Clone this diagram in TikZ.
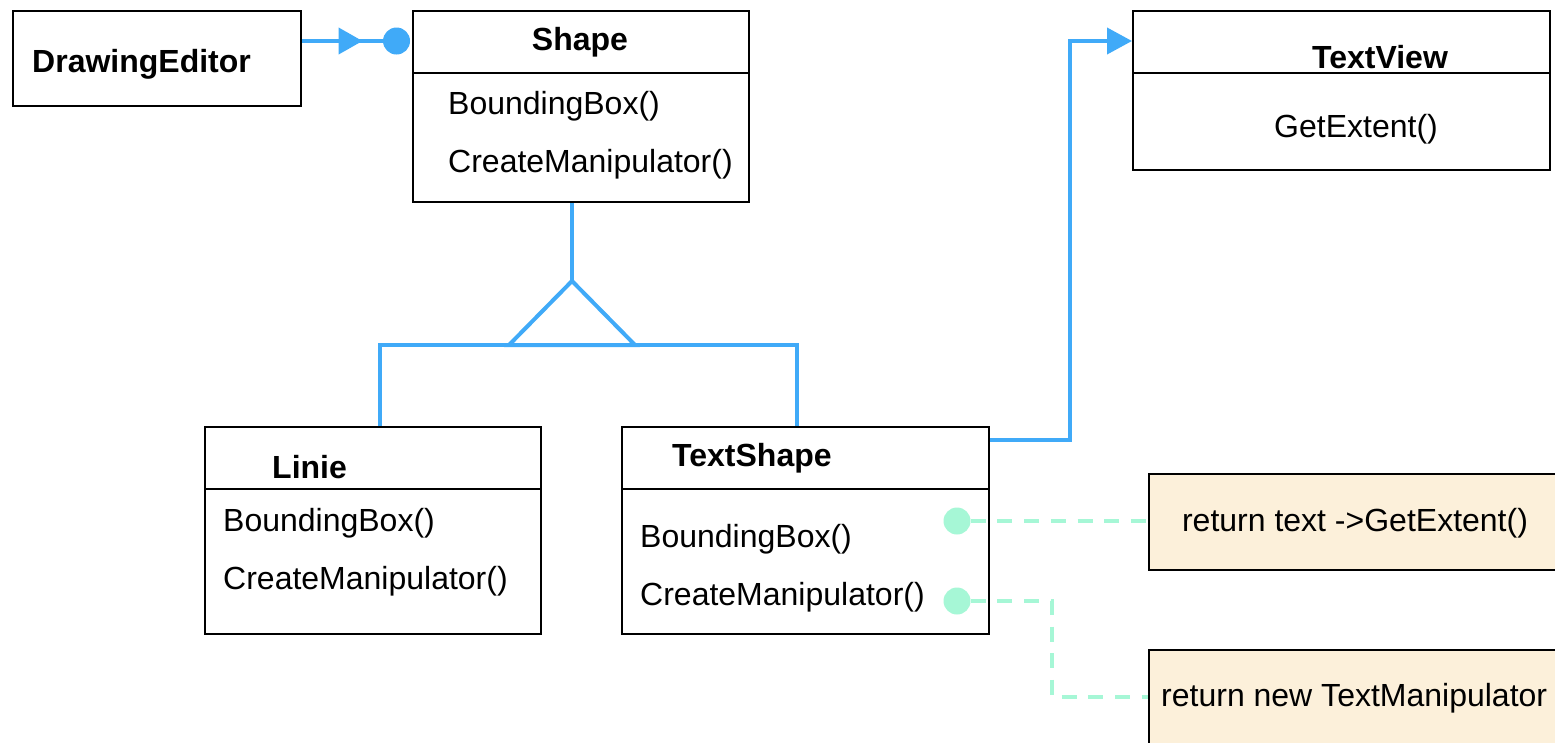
\documentclass[tikz,border=0pt]{standalone}
\usepackage{fontspec}
\setmainfont{Liberation Sans}
\usetikzlibrary{arrows.meta,decorations.markings,calc}
\definecolor{umlblue}{RGB}{64,170,248}
\definecolor{notegreen}{RGB}{166,247,214}
\definecolor{notefill}{RGB}{252,240,218}
\begin{document}
\begin{tikzpicture}[x=1pt,y=-1pt,
  box/.style={draw=black, line width=1.8pt, rectangle, anchor=north west, inner sep=0pt},
  notebox/.style={box, fill=notefill},
  divider/.style={draw=black, line width=1.8pt},
  txt/.style={inner sep=0pt, yshift=-2.5pt, font=\fontsize{32pt}{38pt}\selectfont},
  ttl/.style={txt, font=\fontsize{32pt}{38pt}\selectfont\bfseries},
  blueline/.style={draw=umlblue, line width=4pt},
  inh/.style={draw=umlblue, line width=4pt, line join=miter},
  bigtip/.style={-{Triangle[length=25pt,width=26pt]}},
  gdot/.style={circle, fill=notegreen, minimum size=27pt, inner sep=0pt},
  bdot/.style={circle, fill=umlblue, minimum size=27pt, inner sep=0pt},
  gdash/.style={draw=notegreen, line width=4pt, dash pattern=on 15pt off 11.7pt}
]
\useasboundingbox (0,0) rectangle (1555,742);
\fill[white] (0,0) rectangle (1555,742);

% notes (extend past the right edge)
\node[notebox, minimum width=430pt, minimum height=96pt] (n1) at (1148,473) {};
\node[txt, anchor=center] (n1t) at (1355,521) {return text ->GetExtent()};
\node[notebox, minimum width=430pt, minimum height=110pt] (n2) at (1148,649) {};
\node[txt, anchor=west] (n2t) at (1161,696) {return new TextManipulator};

% DrawingEditor
\node[box, minimum width=288pt, minimum height=95pt] (de) at (12,10) {};
\node[ttl, anchor=west] (deT) at (32,62) {DrawingEditor};

% Shape
\node[box, minimum width=336pt, minimum height=191pt] (sh) at (412,10) {};
\draw[divider] ([yshift=-63pt]sh.north west) -- ([yshift=-63pt]sh.north east);
\node[ttl, anchor=center] (shT) at (580,40) {Shape};
\node[txt, anchor=west] (shM1) at (448,104) {BoundingBox()};
\node[txt, anchor=west] (shM2) at (448,162) {CreateManipulator()};

% TextView
\node[box, minimum width=417pt, minimum height=159pt] (tv) at (1132,10) {};
\draw[divider] ([yshift=-63pt]tv.north west) -- ([yshift=-63pt]tv.north east);
\node[ttl, anchor=center] (tvT) at (1380,55) {TextView};
\node[txt, anchor=center] (tvM1) at (1356,127) {GetExtent()};

% Linie
\node[box, minimum width=336pt, minimum height=207pt] (li) at (204,426) {};
\draw[divider] ([yshift=-63pt]li.north west) -- ([yshift=-63pt]li.north east);
\node[ttl, anchor=west] (liT) at (272,465) {Linie};
\node[txt, anchor=west] (liM1) at (223,521) {BoundingBox()};
\node[txt, anchor=west] (liM2) at (223,579) {CreateManipulator()};

% TextShape
\node[box, minimum width=367pt, minimum height=207pt] (ts) at (621,426) {};
\draw[divider] ([yshift=-63pt]ts.north west) -- ([yshift=-63pt]ts.north east);
\node[ttl, anchor=west] (tsT) at (672,456) {TextShape};
\node[txt, anchor=west] (tsM1) at (640,537) {BoundingBox()};
\node[txt, anchor=west] (tsM2) at (640,595) {CreateManipulator()};

% DrawingEditor -> Shape
\node[bdot] (bd) at (396.5,41) {};
\draw[blueline, postaction={decorate},
  decoration={markings, mark=at position 0.75 with {\arrow{Triangle[length=24pt,width=26pt]}}}]
  (de.east |- bd.west) -- (bd.west);

% TextShape -> TextView
\coordinate (tvin) at (1132,41);
\draw[blueline, bigtip] ([yshift=-14pt]ts.north east) -- ++(80,0) |- (tvin -| tv.west);

% inheritance
\coordinate (apex) at (572,281);
\coordinate (bar) at (572,345);
\draw[inh] (apex |- sh.south) -- (apex);
\draw[inh] (apex) -- ($(bar)+(-63,0)$) -- ($(bar)+(63,0)$) -- cycle;
\draw[inh] ([xshift=7pt]li.north) -- ([xshift=7pt]li.north |- bar) -- ([xshift=-8.5pt]ts.north |- bar) -- ([xshift=-8.5pt]ts.north);

% notes connectors
\node[gdot] (g1) at (957,521) {};
\node[gdot] (g2) at (957,601) {};
\coordinate (bend) at (1052,697);
\draw[gdash] (g1.east) -- (g1.east -| n1.west);
\draw[gdash] (g2.east) -| (bend) -- (bend -| n2.west);
\end{tikzpicture}
\end{document}
